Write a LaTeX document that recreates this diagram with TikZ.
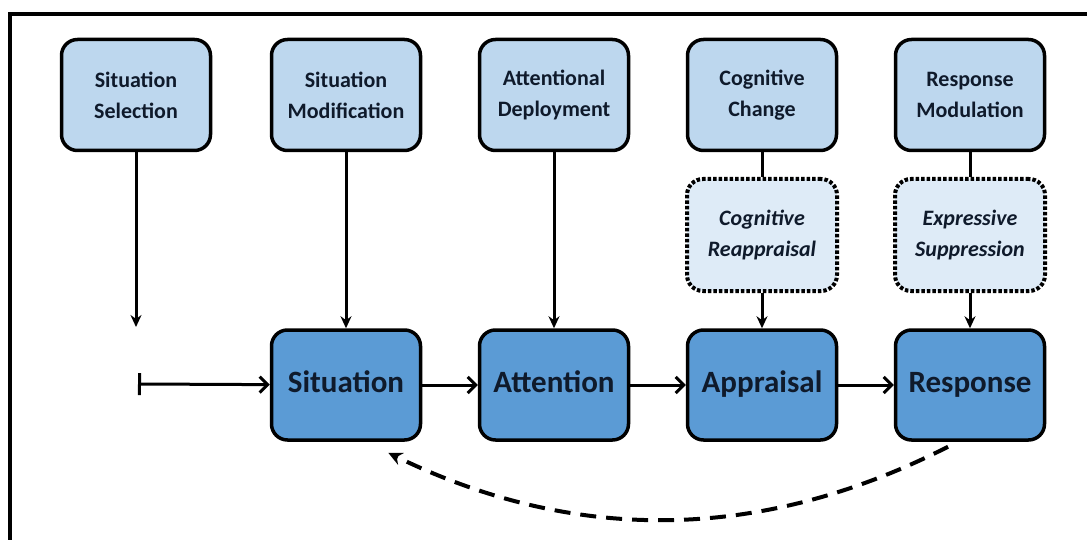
\documentclass[tikz,border=0pt]{standalone}
\usepackage{fontspec}
\setmainfont{Carlito}
\usetikzlibrary{
    arrows.meta,
    positioning
}
\definecolor{strategyblue}{HTML}{BDD7EE}
\definecolor{stageblue}{HTML}{5B9BD5}
\definecolor{paleblue}{HTML}{DEEBF7}
\definecolor{textnavy}{HTML}{0F1A2B}
\tikzset{
    % Boxes
    box border/.style={draw=black,line width=3.5pt,rounded corners=16pt,align=center,text=textnavy},
    strategy box/.style={box border,fill=strategyblue,minimum width=149pt,minimum height=111pt,
        font=\bfseries\fontsize{22}{31}\selectfont},
    tactic box/.style={box border,fill=paleblue,dotted,line width=4pt,minimum width=150pt,minimum height=112pt,
        font=\bfseries\itshape\fontsize{22}{31}\selectfont},
    stage box/.style={box border,fill=stageblue,minimum width=149pt,minimum height=110pt,
        text height=21pt,text depth=6pt,font=\bfseries\fontsize{31}{36}\selectfont},
    %
    % Arrows
    arrow tip/.tip={Stealth[length=12pt,width=11pt]},
    barb tip/.tip={Straight Barb[length=8pt,width=16pt,line width=3pt]},
    link/.style={line width=3pt},
    down arr/.style={link,-{arrow tip}},
    side arr/.style={link,-{barb tip}},
    feedback/.style={line width=4pt,dash pattern=on 16pt off 10pt,-{Stealth[length=14pt,width=13pt]}}
}
\begin{document}
\begin{tikzpicture}[x=1pt,y=-1pt]
    \useasboundingbox (0,0) rectangle (1087,540);
    \draw[line width=3.5pt] (10,14) rectangle (1120,580);
    % strategies
    \node[strategy box] (sel) at (136,95) {Situation\\Selection};
    \node[strategy box] (mod) at (346,95) {Situation\\Modification};
    \node[strategy box] (dep) at (554,95) {Attentional\\Deployment};
    \node[strategy box] (cog) at (762,95) {Cognitive\\Change};
    \node[strategy box] (mdl) at (970,95) {Response\\Modulation};
    % specific tactics
    \node[tactic box] (reap) at (762,235) {Cognitive\\Reappraisal};
    \node[tactic box] (supp) at (970,235) {Expressive\\Suppression};
    % process stages
    \node[stage box] (sit) at (346,385) {Situation};
    \node[stage box] (att) at (554,385) {Attention};
    \node[stage box] (app) at (762,385) {Appraisal};
    \node[stage box] (resp) at (970,385) {Response};
    \coordinate (selend) at (136,327);
    \coordinate (start) at (138,384);
    % connectors
    \draw[down arr] (sel) -- (selend);
    \draw[{Bar[width=22pt,line width=3pt]}-{barb tip},link] (start) -- (sit);
    \foreach \a/\b in {sit/att,att/app,app/resp}{
        \draw[side arr] (\a) -- (\b);
    }
    \foreach \a/\b in {mod/sit,dep/att,reap/app,supp/resp}{
        \draw[down arr] (\a) -- (\b);
    }
    \draw[link] (cog) -- (reap);
    \draw[link] (mdl) -- (supp);
    \draw[feedback] ([shift={(-22,5)}]resp.south) .. controls (761,542) and (575,544) .. ([shift={(-34,11)}]sit.south east);
\end{tikzpicture}
\end{document}
